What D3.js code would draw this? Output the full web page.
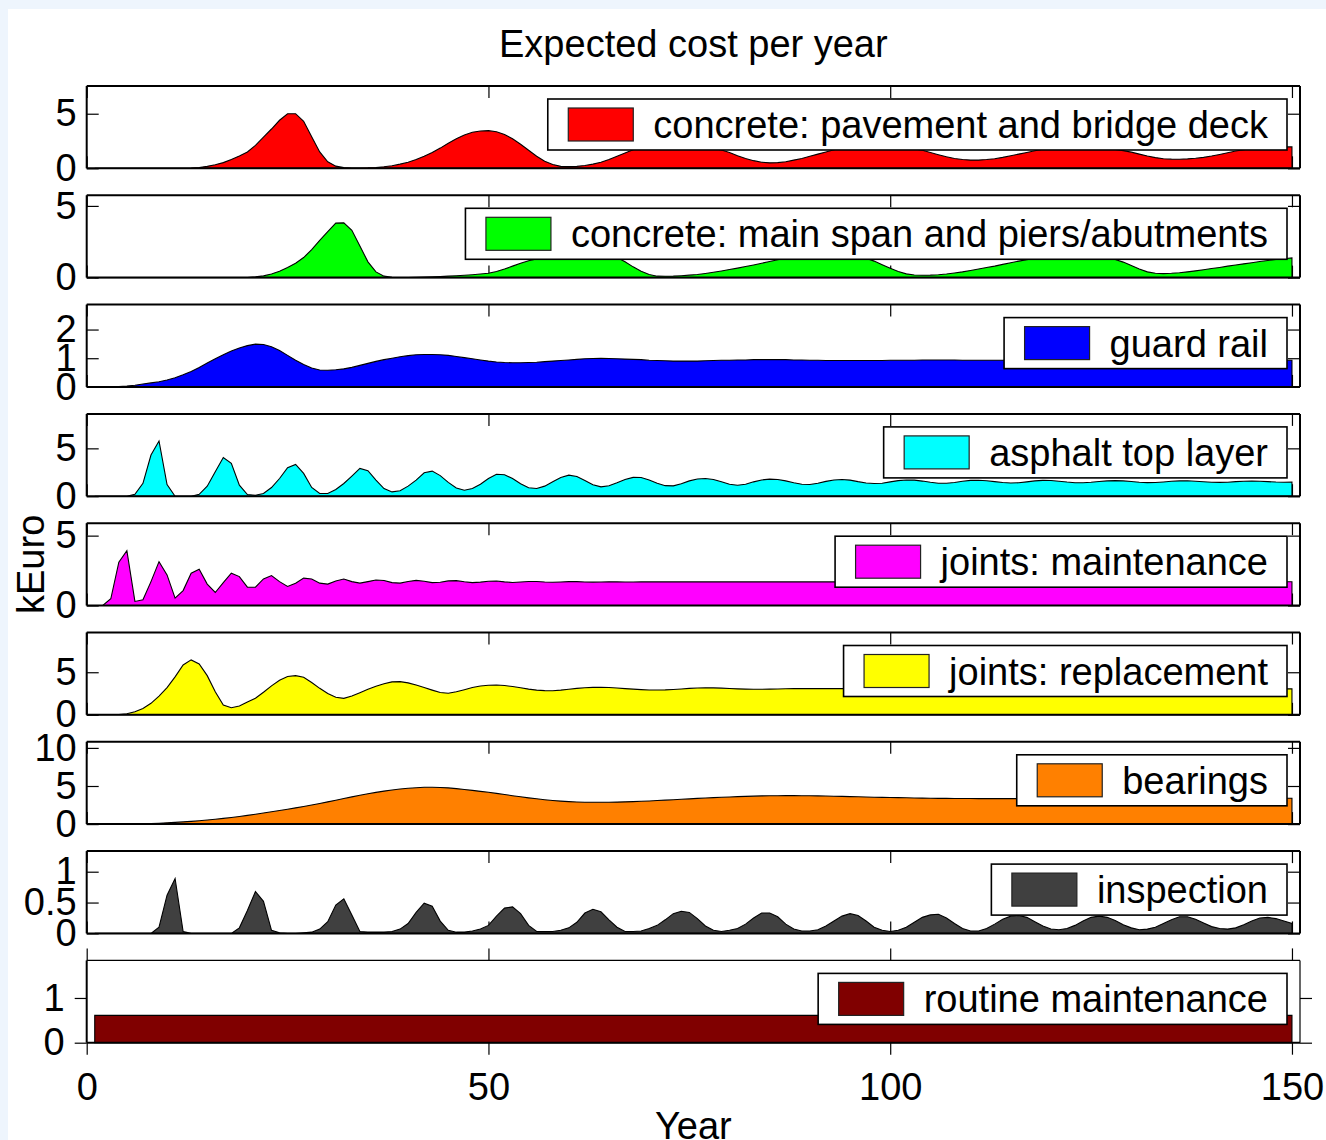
<!DOCTYPE html>
<html>
<head>
<meta charset="utf-8">
<script src="https://cdn.jsdelivr.net/npm/d3@7"></script>
<style>
  html, body { margin: 0; padding: 0; background: #eef5fd; }
  svg { display: block; }
  text { font-family: "Liberation Sans", Arial, Helvetica, sans-serif; fill: #000; }
</style>
</head>
<body>
<svg id="chart" width="1326" height="1140"></svg>
<script>
// Years 1..150 of the life-cycle analysis
const years = d3.range(1, 151);

const labels = [
  "concrete: pavement and bridge deck",
  "concrete: main span and piers/abutments",
  "guard rail",
  "asphalt top layer",
  "joints: maintenance",
  "joints: replacement",
  "bearings",
  "inspection",
  "routine maintenance"
];

const colors = ["#ff0000", "#00ff00", "#0000ff", "#00ffff", "#ff00ff", "#ffff00", "#ff8000", "#404040", "#800000"];

// Expected cost per year (kEuro), one value per year
const concretePavement = [
  0,0,0,0,0,0,0,0,0,0,
  0,0,0.02,0.08,0.18,0.32,0.52,0.8,1.12,1.5,
  2.1,2.85,3.6,4.4,5.0,5.0,4.3,2.9,1.5,0.6,
  0.2,0.06,0.02,0.02,0.04,0.08,0.14,0.24,0.38,0.56,
  0.8,1.1,1.45,1.85,2.3,2.7,3.05,3.3,3.42,3.45,
  3.35,3.1,2.7,2.2,1.65,1.1,0.65,0.35,0.18,0.15,
  0.18,0.26,0.38,0.55,0.8,1.1,1.4,1.7,2.0,2.3,
  2.45,2.58,2.6,2.52,2.38,2.2,2.0,1.82,1.68,1.45,
  1.15,0.9,0.7,0.56,0.5,0.52,0.6,0.75,0.9,1.1,
  1.3,1.5,1.7,1.85,2.0,2.1,2.2,2.22,2.2,2.15,
  2.05,1.92,1.78,1.65,1.45,1.25,1.05,0.9,0.8,0.75,
  0.75,0.8,0.88,1.0,1.15,1.3,1.45,1.6,1.75,1.88,
  1.97,2.02,2.04,2.02,1.98,1.9,1.82,1.72,1.62,1.48,
  1.3,1.12,0.98,0.88,0.84,0.83,0.86,0.92,1.0,1.12,
  1.27,1.42,1.58,1.7,1.8,1.88,1.93,1.95,1.96,1.96
];

const concreteMainSpan = [
  0,0,0,0,0,0,0,0,0,0,
  0,0,0,0,0,0,0,0,0,0.01,
  0.05,0.12,0.25,0.45,0.7,1.0,1.4,1.95,2.6,3.2,
  3.8,3.82,3.3,2.2,1.1,0.4,0.1,0.02,0.01,0.01,
  0.02,0.03,0.05,0.07,0.1,0.13,0.16,0.2,0.25,0.3,
  0.42,0.6,0.8,1.0,1.18,1.3,1.55,1.8,2.0,2.15,
  2.2,2.2,2.1,1.9,1.65,1.4,1.1,0.75,0.45,0.22,
  0.1,0.09,0.1,0.13,0.17,0.22,0.29,0.37,0.46,0.56,
  0.66,0.77,0.88,1.0,1.12,1.24,1.36,1.48,1.6,1.7,
  1.77,1.8,1.78,1.72,1.62,1.5,1.35,1.15,0.9,0.65,
  0.42,0.26,0.18,0.16,0.17,0.2,0.25,0.32,0.4,0.5,
  0.6,0.7,0.8,0.92,1.04,1.15,1.25,1.33,1.42,1.5,
  1.55,1.58,1.6,1.58,1.54,1.46,1.37,1.26,1.08,0.85,
  0.6,0.4,0.3,0.28,0.3,0.34,0.4,0.47,0.55,0.63,
  0.71,0.8,0.88,0.96,1.04,1.12,1.19,1.26,1.32,1.37
];

const guardRail = [
  0,0,0,0.01,0.03,0.06,0.1,0.14,0.18,0.24,
  0.32,0.42,0.54,0.68,0.83,0.98,1.12,1.25,1.36,1.44,
  1.49,1.48,1.4,1.27,1.1,0.93,0.78,0.66,0.59,0.58,
  0.6,0.63,0.68,0.75,0.82,0.89,0.95,1.0,1.05,1.09,
  1.12,1.13,1.13,1.12,1.1,1.06,1.02,0.98,0.94,0.9,
  0.87,0.85,0.84,0.84,0.85,0.86,0.88,0.9,0.92,0.94,
  0.96,0.98,0.99,1.0,0.99,0.98,0.97,0.96,0.95,0.93,
  0.92,0.91,0.9,0.9,0.9,0.9,0.91,0.92,0.93,0.93,
  0.94,0.94,0.95,0.95,0.95,0.95,0.95,0.94,0.94,0.93,
  0.93,0.92,0.92,0.92,0.92,0.92,0.92,0.92,0.92,0.93,
  0.93,0.93,0.93,0.94,0.94,0.94,0.94,0.94,0.93,0.93,
  0.93,0.93,0.93,0.93,0.93,0.93,0.93,0.93,0.93,0.93,
  0.93,0.93,0.93,0.93,0.93,0.93,0.93,0.93,0.93,0.93,
  0.93,0.93,0.93,0.93,0.93,0.93,0.93,0.93,0.93,0.93,
  0.93,0.93,0.93,0.93,0.93,0.93,0.93,0.93,0.93,0.93
];

const asphaltTop = [
  0,0,0,0,0,0.2,1.35,4.3,5.77,1.22,
  0,0,0,0.2,1.05,2.55,4.05,3.43,1.15,0.17,
  0.1,0.28,0.91,1.85,2.97,3.32,2.38,0.91,0.28,0.28,
  0.7,1.33,2.1,2.9,2.66,1.68,0.8,0.45,0.56,1.05,
  1.68,2.45,2.62,2.15,1.45,0.85,0.63,0.8,1.25,1.85,
  2.3,2.25,1.85,1.3,0.88,0.8,1.05,1.5,1.95,2.2,
  2.05,1.65,1.2,0.98,1.1,1.4,1.75,1.97,1.95,1.7,
  1.35,1.1,1.08,1.3,1.6,1.8,1.85,1.75,1.5,1.25,
  1.15,1.25,1.5,1.7,1.78,1.75,1.6,1.4,1.25,1.22,
  1.35,1.55,1.7,1.75,1.68,1.52,1.38,1.32,1.35,1.5,
  1.63,1.7,1.68,1.58,1.45,1.36,1.35,1.43,1.56,1.65,
  1.67,1.62,1.52,1.43,1.38,1.4,1.5,1.6,1.65,1.64,
  1.57,1.48,1.41,1.4,1.45,1.53,1.6,1.63,1.6,1.53,
  1.46,1.42,1.43,1.49,1.56,1.6,1.61,1.57,1.51,1.46,
  1.44,1.46,1.52,1.57,1.59,1.57,1.52,1.48,1.46,1.47
];

const jointsMaintenance = [
  0,0,0.48,3.1,3.93,0.29,0.41,1.71,3.14,2.19,
  0.53,1.07,2.31,2.6,1.53,0.93,1.64,2.31,2.07,1.31,
  1.31,1.9,2.14,1.71,1.36,1.6,1.96,1.9,1.6,1.53,
  1.76,1.9,1.71,1.6,1.71,1.83,1.79,1.64,1.6,1.72,
  1.8,1.74,1.64,1.66,1.76,1.78,1.7,1.64,1.67,1.74,
  1.75,1.69,1.65,1.68,1.72,1.72,1.68,1.66,1.68,1.71,
  1.71,1.68,1.67,1.68,1.7,1.69,1.68,1.68,1.69,1.69,
  1.69,1.69,1.69,1.69,1.69,1.69,1.69,1.69,1.69,1.69,
  1.69,1.69,1.69,1.69,1.69,1.69,1.69,1.69,1.69,1.69,
  1.69,1.69,1.69,1.69,1.69,1.69,1.69,1.69,1.69,1.69,
  1.69,1.69,1.69,1.69,1.69,1.69,1.69,1.69,1.69,1.69,
  1.69,1.69,1.69,1.69,1.69,1.69,1.69,1.69,1.69,1.69,
  1.69,1.69,1.69,1.69,1.69,1.69,1.69,1.69,1.69,1.69,
  1.69,1.69,1.69,1.69,1.69,1.69,1.7,1.7,1.7,1.7,
  1.7,1.7,1.7,1.7,1.7,1.7,1.7,1.7,1.7,1.7
];

const jointsReplacement = [
  0,0,0,0.02,0.12,0.35,0.75,1.35,2.2,3.2,
  4.45,5.86,6.45,5.98,4.6,2.71,1.14,0.83,1.03,1.5,
  1.95,2.65,3.4,4.05,4.5,4.6,4.41,3.8,3.11,2.5,
  2.07,1.93,2.2,2.6,3.0,3.35,3.65,3.87,3.9,3.75,
  3.5,3.2,2.9,2.62,2.53,2.7,2.95,3.2,3.38,3.47,
  3.5,3.44,3.32,3.17,3.02,2.9,2.84,2.83,2.9,3.0,
  3.1,3.18,3.22,3.23,3.2,3.14,3.08,3.02,2.96,2.92,
  2.91,2.93,2.98,3.04,3.1,3.15,3.17,3.16,3.13,3.09,
  3.05,3.02,3.0,3.0,3.02,3.04,3.06,3.08,3.08,3.08,
  3.07,3.07,3.08,3.08,3.07,3.06,3.06,3.06,3.07,3.07,
  3.06,3.06,3.06,3.06,3.06,3.06,3.06,3.06,3.06,3.06,
  3.06,3.06,3.06,3.06,3.06,3.06,3.06,3.06,3.06,3.06,
  3.06,3.06,3.06,3.06,3.06,3.06,3.06,3.06,3.06,3.06,
  3.06,3.06,3.06,3.06,3.06,3.06,3.06,3.06,3.06,3.06,
  3.05,3.05,3.05,3.05,3.05,3.05,3.05,3.05,3.05,3.05
];

const bearings = [
  0,0,0,0,0.01,0.03,0.05,0.08,0.12,0.17,
  0.22,0.29,0.36,0.44,0.53,0.63,0.75,0.87,1.0,1.14,
  1.29,1.45,1.61,1.78,1.95,2.13,2.31,2.5,2.7,2.92,
  3.14,3.36,3.57,3.78,3.98,4.16,4.33,4.48,4.61,4.71,
  4.78,4.83,4.84,4.81,4.75,4.66,4.55,4.43,4.3,4.18,
  4.03,3.88,3.73,3.58,3.44,3.32,3.2,3.1,3.02,2.95,
  2.9,2.87,2.86,2.86,2.87,2.89,2.92,2.95,2.99,3.04,
  3.09,3.14,3.2,3.26,3.31,3.37,3.42,3.47,3.52,3.56,
  3.6,3.64,3.67,3.7,3.72,3.73,3.74,3.74,3.73,3.72,
  3.7,3.68,3.66,3.64,3.61,3.59,3.56,3.53,3.51,3.49,
  3.47,3.45,3.43,3.41,3.4,3.38,3.37,3.36,3.35,3.35,
  3.34,3.34,3.34,3.34,3.34,3.34,3.34,3.34,3.34,3.34,
  3.34,3.34,3.34,3.34,3.34,3.34,3.34,3.34,3.34,3.34,
  3.35,3.35,3.35,3.35,3.35,3.35,3.35,3.35,3.35,3.35,
  3.36,3.36,3.36,3.37,3.37,3.38,3.38,3.39,3.4,3.4
];

const inspection = [
  0,0,0,0,0,0,0,0,0.1,0.62,
  0.89,0.03,0,0,0,0,0,0,0.09,0.37,
  0.68,0.52,0.05,0.01,0,0,0.01,0.02,0.07,0.19,
  0.46,0.56,0.3,0.03,0.02,0.02,0.02,0.03,0.07,0.16,
  0.34,0.49,0.44,0.2,0.05,0.02,0.02,0.04,0.07,0.13,
  0.28,0.41,0.43,0.32,0.13,0.03,0.03,0.03,0.05,0.09,
  0.18,0.33,0.39,0.35,0.22,0.1,0.03,0.03,0.04,0.08,
  0.13,0.22,0.32,0.36,0.34,0.24,0.12,0.05,0.03,0.05,
  0.08,0.15,0.25,0.33,0.33,0.27,0.15,0.07,0.04,0.04,
  0.06,0.12,0.2,0.28,0.32,0.29,0.2,0.1,0.05,0.03,
  0.05,0.1,0.18,0.26,0.3,0.31,0.25,0.16,0.08,0.04,
  0.04,0.08,0.15,0.23,0.28,0.29,0.26,0.19,0.12,0.07,
  0.06,0.08,0.13,0.2,0.26,0.28,0.26,0.21,0.14,0.09,
  0.06,0.07,0.1,0.16,0.22,0.27,0.27,0.23,0.17,0.11,
  0.08,0.07,0.09,0.14,0.2,0.25,0.26,0.24,0.2,0.16
];

const routineMaintenance = [
  0.61,0.61,0.61,0.61,0.61,0.61,0.61,0.61,0.61,0.61,
  0.61,0.61,0.61,0.61,0.61,0.61,0.61,0.61,0.61,0.61,
  0.61,0.61,0.61,0.61,0.61,0.61,0.61,0.61,0.61,0.61,
  0.61,0.61,0.61,0.61,0.61,0.61,0.61,0.61,0.61,0.61,
  0.61,0.61,0.61,0.61,0.61,0.61,0.61,0.61,0.61,0.61,
  0.61,0.61,0.61,0.61,0.61,0.61,0.61,0.61,0.61,0.61,
  0.61,0.61,0.61,0.61,0.61,0.61,0.61,0.61,0.61,0.61,
  0.61,0.61,0.61,0.61,0.61,0.61,0.61,0.61,0.61,0.61,
  0.61,0.61,0.61,0.61,0.61,0.61,0.61,0.61,0.61,0.61,
  0.61,0.61,0.61,0.61,0.61,0.61,0.61,0.61,0.61,0.61,
  0.61,0.61,0.61,0.61,0.61,0.61,0.61,0.61,0.61,0.61,
  0.61,0.61,0.61,0.61,0.61,0.61,0.61,0.61,0.61,0.61,
  0.61,0.61,0.61,0.61,0.61,0.61,0.61,0.61,0.61,0.61,
  0.61,0.61,0.61,0.61,0.61,0.61,0.61,0.61,0.61,0.61,
  0.61,0.61,0.61,0.61,0.61,0.61,0.61,0.61,0.61,0.61
];

const seriesValues = [concretePavement, concreteMainSpan, guardRail, asphaltTop,
  jointsMaintenance, jointsReplacement, bearings, inspection, routineMaintenance];

// Upper y-limit of each panel and its tick values
const yLimits = [7.54, 5.74, 2.87, 8.6, 5.89, 9.67, 10.8, 1.334, 1.84];
const yTickValues = [[0, 5], [0, 5], [0, 1, 2], [0, 5], [0, 5], [0, 5], [0, 5, 10], [0, 0.5, 1], [0, 1]];
const xTickValues = [0, 50, 100, 150];
const xLimits = [0, 151];

// ---- layout ----
const W = 1326, H = 1140;
const FONT = 38;
const plotLeft = 86.7, plotRight = 1300;
const firstTop = 86, panelStep = 109.3, panelH = 82.3;
const TICK = 12;

const svg = d3.select("#chart");
svg.append("rect").attr("x", 0).attr("y", 0).attr("width", W).attr("height", H).attr("fill", "#eef5fd");
svg.append("rect").attr("x", 8).attr("y", 9).attr("width", W - 8).attr("height", H - 9).attr("fill", "#ffffff");

const x = d3.scaleLinear().domain(xLimits).range([plotLeft, plotRight]);

function styleAxis(sel) {
  sel.attr("font-family", null).attr("font-size", null);
  sel.select(".domain").remove();
  sel.selectAll(".tick line").attr("stroke", "#000").attr("stroke-width", 1.2);
  sel.selectAll(".tick text").attr("font-size", FONT).attr("fill", "#000");
}

seriesValues.forEach((values, i) => {
  const top = firstTop + i * panelStep;
  const bottom = top + panelH;
  const isLast = i === seriesValues.length - 1;
  const tickLen = isLast ? TICK : -TICK; // last panel: ticks point outward
  const y = d3.scaleLinear().domain([0, yLimits[i]]).range([bottom, top]);
  const g = svg.append("g").attr("class", "panel");

  // ticks on all four sides
  g.append("g").attr("transform", `translate(${plotLeft},0)`)
    .call(d3.axisLeft(y).tickValues(yTickValues[i]).tickSize(tickLen).tickPadding(10)
      .tickFormat(d3.format("~g")))
    .call(styleAxis);
  g.append("g").attr("transform", `translate(${plotRight},0)`)
    .call(d3.axisRight(y).tickValues(yTickValues[i]).tickSize(tickLen).tickFormat(""))
    .call(styleAxis);
  g.append("g").attr("transform", `translate(0,${top})`)
    .call(d3.axisTop(x).tickValues(xTickValues).tickSize(tickLen).tickFormat(""))
    .call(styleAxis);
  g.append("g").attr("transform", `translate(0,${bottom})`)
    .call(d3.axisBottom(x).tickValues(xTickValues).tickSize(tickLen).tickPadding(18)
      .tickFormat(isLast ? d3.format("d") : ""))
    .call(styleAxis);

  // filled area
  const area = d3.area()
    .x((d, j) => x(years[j]))
    .y0(y(0))
    .y1(d => y(d));
  g.append("path")
    .datum(values)
    .attr("d", d => area(d) + "Z")
    .attr("fill", colors[i])
    .attr("stroke", "#000")
    .attr("stroke-width", 1.1)
    .attr("stroke-linejoin", "miter");

  // axes box
  g.append("line").attr("x1", plotLeft).attr("x2", plotRight).attr("y1", bottom).attr("y2", bottom)
    .attr("stroke", "#000").attr("stroke-width", 2);
  g.append("line").attr("x1", plotLeft).attr("x2", plotLeft).attr("y1", top).attr("y2", bottom)
    .attr("stroke", "#000").attr("stroke-width", 2);
  g.append("line").attr("x1", plotRight).attr("x2", plotRight).attr("y1", top).attr("y2", bottom)
    .attr("stroke", "#000").attr("stroke-width", isLast ? 1.2 : 2);
  g.append("line").attr("x1", plotLeft).attr("x2", plotRight).attr("y1", top).attr("y2", top)
    .attr("stroke", "#000").attr("stroke-width", isLast ? 1.2 : 2);

  // legend
  const lg = g.append("g").attr("class", "legend");
  const boxTop = top + 13, boxH = 51, boxRight = 1287, textRight = 1268;
  const box = lg.append("rect");
  const patch = lg.append("rect");
  const label = lg.append("text")
    .attr("x", textRight)
    .attr("y", boxTop + boxH / 2 + 13.5)
    .attr("text-anchor", "end")
    .attr("font-size", FONT)
    .text(labels[i]);
  const textLen = label.node().getComputedTextLength();
  const boxLeft = textRight - textLen - 105.5;
  box.attr("x", boxLeft).attr("y", boxTop).attr("width", boxRight - boxLeft).attr("height", boxH)
    .attr("fill", "#fff").attr("stroke", "#000").attr("stroke-width", 1.6);
  patch.attr("x", boxLeft + 20.5).attr("y", boxTop + 9).attr("width", 65).attr("height", 33)
    .attr("fill", colors[i]).attr("stroke", "#222").attr("stroke-width", 1.2);
});

// title and axis labels
svg.append("text").attr("x", (plotLeft + plotRight) / 2).attr("y", 57)
  .attr("text-anchor", "middle").attr("font-size", FONT).text("Expected cost per year");
svg.append("text").attr("x", (plotLeft + plotRight) / 2).attr("y", 1139)
  .attr("text-anchor", "middle").attr("font-size", FONT).text("Year");
svg.append("text")
  .attr("transform", `translate(44,${(firstTop + 8 * panelStep + panelH + firstTop) / 2}) rotate(-90)`)
  .attr("text-anchor", "middle").attr("font-size", FONT).text("kEuro");
</script>
</body>
</html>
